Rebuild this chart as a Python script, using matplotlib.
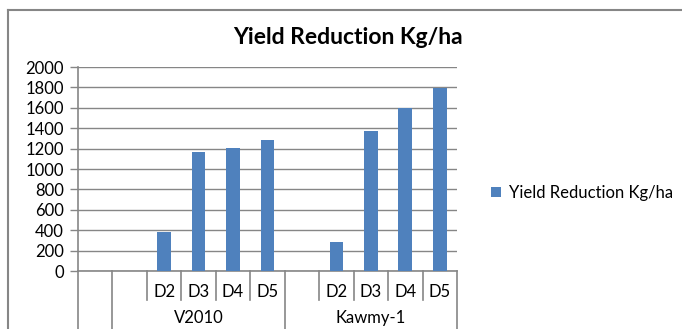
import numpy as np
import matplotlib
matplotlib.use("Agg")
import matplotlib.pyplot as plt
from matplotlib.lines import Line2D

plt.rcParams['font.family'] = ['Lato', 'DejaVu Sans']

# yield reduction per dose, two varieties (first dose slot has no data)
groups = ['V2010', 'Kawmy-1']
doses = ['', 'D2', 'D3', 'D4', 'D5']
v2010 = [np.nan, 383, 1164, 1207, 1288]
kawmy = [np.nan, 281, 1375, 1601, 1797]
yticks = list(range(0, 2001, 200))

# one leading empty slot, then the two groups
labels = [''] + doses + doses
values = [np.nan] + v2010 + kawmy
x = np.arange(len(labels))

W, H = 682, 329
fig = plt.figure(figsize=(W / 100, H / 100), dpi=100)
ax = fig.add_axes([78 / W, 1 - 271 / H, (457 - 78) / W, (271 - 67) / H])

grey = '#868686'
vals = np.array(values, dtype=float)
ok = ~np.isnan(vals)
ax.bar(x[ok], vals[ok], width=0.4, color='#4F81BD', zorder=3,
       label='Yield Reduction Kg/ha')

ax.set_xlim(-0.5, len(labels) - 0.5)
ax.set_ylim(0, 2000)
ax.set_yticks(yticks)
ax.yaxis.grid(True, color=grey, lw=1)
ax.set_axisbelow(True)
ax.set_xticks([])
ax.tick_params(axis='y', direction='out', length=6, color=grey, width=1,
               labelsize=12, pad=4, labelcolor='black')
for s in ('top', 'right'):
    ax.spines[s].set_visible(False)
for s in ('left', 'bottom'):
    ax.spines[s].set_color(grey)
    ax.spines[s].set_linewidth(1.2)

# multi-level category axis: dividers and labels
tr = ax.get_xaxis_transform()
axh = 271 - 67
short_y = -(300 - 271) / axh
long_y = -(H - 271 + 5) / axh
group_edges = {0, 1, 1 + len(doses), len(labels)}
for i in range(len(labels) + 1):
    b = i - 0.5
    y_end = long_y if i in group_edges else short_y
    ax.add_line(Line2D([b, b], [0, y_end], transform=tr, color=grey,
                       lw=1.2, clip_on=False))

for xi, lab in zip(x, labels):
    ax.text(xi, -(292 - 271) / axh, lab, transform=tr, ha='center',
            va='center', fontsize=12)

for gi, g in enumerate(groups):
    start = 1 + gi * len(doses)
    mid = start + (len(doses) - 1) / 2
    ax.text(mid, -(318 - 271) / axh, g, transform=tr, ha='center',
            va='center', fontsize=12)

# chart area border (left and top edges)
fig.add_artist(Line2D([7.5 / W, 7.5 / W], [0, 1 - 10 / H],
                      transform=fig.transFigure, color=grey, lw=1.5))
fig.add_artist(Line2D([7.5 / W, 1], [1 - 10 / H, 1 - 10 / H],
                      transform=fig.transFigure, color=grey, lw=1.5))

fig.text(348 / W, 1 - 37 / H, 'Yield Reduction Kg/ha', ha='center',
         va='center', fontsize=16.5, fontweight='bold')

fig.legend(loc='center left', bbox_to_anchor=(484 / W, 1 - 193 / H),
           frameon=False, handlelength=0.6, handleheight=0.6,
           handletextpad=0.5, fontsize=12, borderaxespad=0)

fig.savefig('out.png', dpi=100, facecolor='white')
